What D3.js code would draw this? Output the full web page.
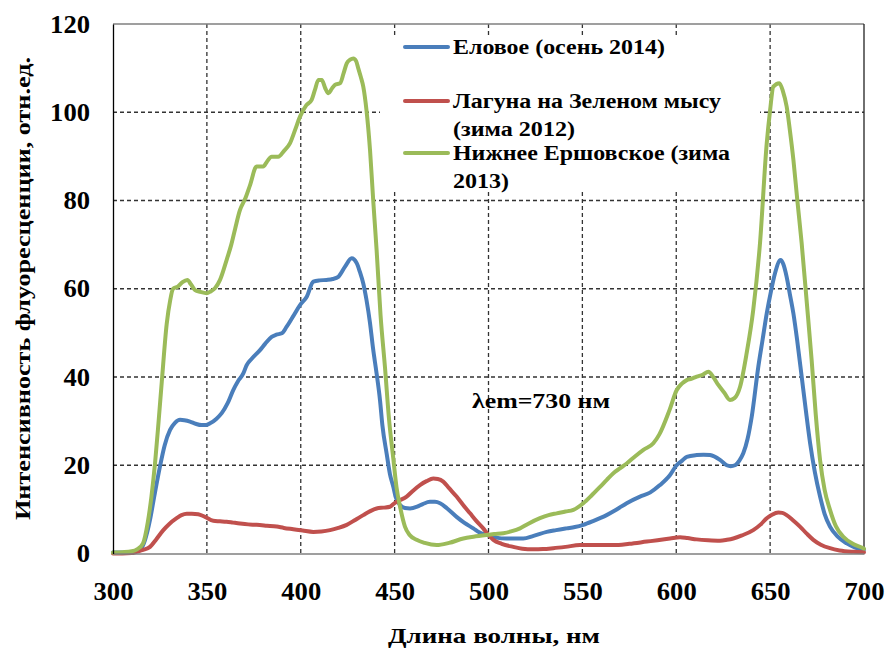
<!DOCTYPE html>
<html>
<head>
<meta charset="utf-8">
<script src="https://cdn.jsdelivr.net/npm/d3@7"></script>
<style>
  html, body { margin: 0; padding: 0; background: #fff; }
  svg { display: block; }
</style>
</head>
<body>
<svg id="chart" width="885" height="649"></svg>
<script>
// Excitation spectra of fluorescence, emission at 730 nm
const seriesNames = ["Еловое (осень 2014)", "Лагуна на Зеленом мысу (зима 2012)", "Нижнее Ершовское (зима 2013)"];
const legendLines = [["Еловое (осень 2014)"], ["Лагуна на Зеленом мысу", "(зима 2012)"], ["Нижнее Ершовское (зима", "2013)"]];
const seriesColors = ["#4a7ebb", "#c0504d", "#9bbb59"];

const xTicks = [300, 350, 400, 450, 500, 550, 600, 650, 700];
const yTicks = [0, 20, 40, 60, 80, 100, 120];

// [wavelength nm, intensity]
const elovoe = [
  [300,0.2],[305,0.2],[310,0.3],[314.4,0.8],[317,3],[319.7,7.6],[322,13],[325,19.7],[327.5,24.5],[330.4,28],[333,29.6],[335.7,30.3],
  [338,30.2],[341,29.9],[344,29.4],[347.2,29.1],[349.5,29.1],[351.7,29.5],[355,30.5],[357.9,31.8],[361,34],[364.1,37.1],[366.5,39],
  [369.4,40.8],[371.2,42.7],[374,44.2],[378.3,46.1],[381,47.5],[384.5,49.1],[387,49.6],[389.9,49.9],[392.5,51.4],[396,53.8],
  [399.6,56.3],[403.2,58.2],[406.7,61.6],[410,61.9],[413.8,62],[417,62.2],[420,62.7],[423.6,65],[427.1,66.9],[429.8,65.8],
  [431.5,63.8],[433.3,61.2],[435,57.5],[436.9,52.2],[438.5,46.5],[440.4,40.8],[442.2,34.8],[443.5,29],[445.8,22.5],[447.5,18],
  [449.3,15.1],[450.5,12.9],[452.9,11],[455.5,10.3],[458.2,10.2],[462,10.6],[465,11.2],[468.8,11.7],[471.5,11.7],[474.2,11.4],
  [478,10.2],[483,8.3],[487,7],[491.9,5.7],[495,4.8],[499,4.2],[504,3.6],[509.6,3.4],[514,3.4],[518.5,3.4],[524,4],[531,4.9],
  [536,5.3],[541.6,5.7],[546,6],[550.5,6.5],[556,7.4],[562.9,8.7],[568,9.9],[573.6,11.4],[580.7,12.9],[586,13.8],[591.3,15.5],
  [596.7,17.8],[600.2,20],[603,21],[605.6,21.9],[610.9,22.3],[614.5,22.4],[618,22.3],[623.3,21.2],[626.9,20],[629,19.8],
  [631.3,20],[633.5,21],[635.7,22.7],[638,26],[640.2,31],[643.7,42.3],[646,48.5],[648.2,54.4],[650.5,59.5],[652.6,63.5],
  [655.6,66.5],[657,65.6],[658.8,62.7],[660.5,58.8],[662.4,54.4],[664.5,48],[666.8,40.1],[669,32.5],[671.3,25],[673.8,18.5],
  [676.6,12.9],[679,9],[681.9,6.1],[686,3.8],[690.8,2.3],[695,1.4],[699.6,0.9],[700,0.9]
];

const laguna = [
  [300,0],[305,0],[310,0.1],[312.6,0.4],[316,0.8],[319.7,1.5],[323,3.2],[326.8,5.3],[330,6.7],[333.9,8],[336.5,8.7],[339.3,9],
  [342,9],[345.4,8.9],[349,8.3],[353.4,7.4],[357,7.3],[360.5,7.2],[364,7],[367.6,6.8],[372,6.6],[376.5,6.5],[382,6.3],
  [387.2,6.1],[391,5.8],[396,5.5],[401,5.2],[406.7,4.9],[411,5],[415.6,5.3],[420,5.8],[424.5,6.5],[429,7.6],[433.3,8.7],
  [437,9.6],[440.4,10.2],[444,10.4],[447.5,10.6],[449.3,11.2],[452,11.9],[456.4,12.9],[460,14.3],[463.5,15.5],[467,16.4],
  [470.6,17],[473,16.9],[475.9,16.3],[479,14.8],[483,12.9],[486.5,11],[490.2,9.1],[493.5,7.4],[497.2,5.7],[500,4.2],
  [502.6,3.1],[507,2.2],[513.2,1.5],[518,1.1],[523.9,0.95],[529,1],[534.5,1.2],[541,1.5],[548.7,1.9],[557,1.9],[566.5,1.9],
  [575,2.2],[584.3,2.7],[590,3],[596.7,3.4],[602,3.7],[606,3.5],[610.9,3.2],[617,3],[623.3,2.9],[627,3.1],[630.4,3.4],
  [635,4.1],[641,5.3],[645,6.6],[648.2,8],[651,8.8],[654.4,9.3],[656.5,9.2],[658.8,8.7],[662,7.6],[665.9,6.1],[669.5,4.5],
  [673,3.1],[677,2],[681.9,1.2],[687,0.7],[694.3,0.4],[700,0.3]
];

const nizhnee = [
  [300,0.2],[305,0.3],[310,0.5],[313,1],[316,2.3],[318.5,7],[320.5,13],[322.4,20.5],[324.3,30],[326,39],[328.6,52],[330.5,57.5],
  [332,60],[334.5,60.5],[337,61.5],[339.6,62],[341.5,61],[343.7,59.7],[346.5,59.3],[349.9,59],[352,59.4],[354.3,60.1],[357,62],
  [360.5,66.5],[363,70],[365,73.5],[367.6,77.8],[370.5,80.5],[373,83.5],[376.5,87.7],[378.3,87.7],[380,87.7],[382,88.8],
  [384.5,89.9],[388,89.9],[391,91.2],[394.3,93],[397,96],[399.6,99],[403,101.6],[405.8,102.8],[407.5,105],[409.4,107.3],
  [411.2,107.3],[413,105.5],[414.7,104.3],[416.5,105.3],[418.2,106.2],[421,106.6],[422.8,108.8],[424.5,111.1],[426.3,111.9],
  [428,112.2],[429.5,111.6],[430.6,110],[432,108],[433.3,105.8],[435,100.5],[436.9,91.4],[438.6,80],[440.4,68.8],[442.5,54],
  [444.9,42],[447,30.5],[449.3,21.5],[451,15],[452.9,10.6],[455.5,6.1],[458,4.2],[461.7,3.1],[466,2.4],[472.4,1.9],[479,2.4],
  [486.6,3.4],[492,3.8],[499,4.2],[503,4.4],[507.9,4.6],[512,5],[516.8,5.7],[521,6.7],[527.4,8],[532,8.7],[536.3,9.1],
  [541,9.5],[545.2,9.9],[550.5,11.4],[555,13.2],[559.4,15.1],[563,16.7],[566.5,18.2],[570,19.3],[573.6,20.4],[578,22],
  [582.5,23.5],[587.8,25],[591,27],[596.4,32.5],[600.2,37],[603,38.5],[605.6,39.3],[608,39.6],[610.9,40.1],[614,40.5],
  [617.1,41.2],[620,39.8],[622.4,38.2],[625.5,36.5],[628.6,34.8],[631,35.2],[634,37.8],[637.5,45.4],[641,55.2],[644.6,70.3],
  [648.2,93],[650,100.5],[651.7,105.8],[654.9,106.6],[656.8,104.8],[658.8,101.3],[660.5,96],[662.4,89.2],[664.5,80],
  [666.8,70.3],[669.5,57],[672.1,43.9],[674.3,31.5],[676.6,21.2],[679,14.5],[681.9,9.9],[685,6.2],[689,3.8],[694,2.2],
  [699.6,1.2],[700,1.1]
];

const allSeries = [elovoe, laguna, nizhnee];

const FONT = "'Liberation Serif', Tinos, 'Times New Roman', Times, 'Noto Serif', 'DejaVu Serif', FreeSerif, 'Nimbus Roman', serif";
// bold black text, optionally pinned to a given run length
const styleText = (sel, len) => {
  sel.style("font-family", FONT).style("font-weight", "bold").attr("fill", "#000");
  if (len) sel.attr("textLength", len).attr("lengthAdjust", "spacingAndGlyphs");
};

const svg = d3.select("#chart");
const W = 885, H = 649;
svg.append("rect").attr("width", W).attr("height", H).attr("fill", "#fff");

const plot = { left: 113, right: 864, top: 24, bottom: 553.5 };

const x = d3.scaleLinear().domain([300, 700]).range([plot.left, plot.right]);
const y = d3.scaleLinear().domain([0, 120]).range([plot.bottom, plot.top]);

// grid
const grid = svg.append("g");
grid.selectAll("line.h").data(yTicks.filter(t => t > 0 && t < 120)).join("line")
  .attr("x1", plot.left).attr("x2", plot.right)
  .attr("y1", d => y(d)).attr("y2", d => y(d))
  .attr("stroke", "#333").attr("stroke-width", 1.3).attr("stroke-dasharray", "4,3");
grid.selectAll("line.v").data(xTicks.filter(t => t > 300 && t < 700)).join("line")
  .attr("x1", d => x(d)).attr("x2", d => x(d))
  .attr("y1", plot.top).attr("y2", plot.bottom)
  .attr("stroke", "#333").attr("stroke-width", 1.3).attr("stroke-dasharray", "4,3");

// frame
svg.append("line").attr("x1", plot.left).attr("x2", plot.right).attr("y1", plot.top).attr("y2", plot.top)
  .attr("stroke", "#7f7f7f").attr("stroke-width", 1.3);
svg.append("line").attr("x1", plot.right).attr("x2", plot.right).attr("y1", plot.top).attr("y2", plot.bottom)
  .attr("stroke", "#222").attr("stroke-width", 1.3);

// series
const line = d3.line().x(d => x(d[0])).y(d => y(d[1])).curve(d3.curveMonotoneX);
svg.append("g").selectAll("path").data(allSeries).join("path")
  .attr("d", line)
  .attr("fill", "none")
  .attr("stroke", (d, i) => seriesColors[i])
  .attr("stroke-width", 4)
  .attr("stroke-linejoin", "round")
  .attr("stroke-linecap", "round");

// axes
const digitW = 13.3;
const xAxis = d3.axisBottom(x).tickValues(xTicks).tickSize(0).tickPadding(29);
const gx = svg.append("g").attr("transform", `translate(0,${plot.bottom})`).call(xAxis);
gx.select(".domain").attr("stroke", "#7f7f7f").attr("stroke-width", 1.5);
gx.selectAll("text").style("font-size", "25px").each(function(d) {
  d3.select(this).call(styleText, String(d).length * digitW);
});

const yAxis = d3.axisLeft(y).tickValues(yTicks).tickSize(0).tickPadding(23);
const gy = svg.append("g").attr("transform", `translate(${plot.left},0)`).call(yAxis);
gy.select(".domain").attr("stroke", "#000").attr("stroke-width", 1.3);
gy.selectAll("text").style("font-size", "25px").each(function(d) {
  d3.select(this).call(styleText, String(d).length * digitW);
});

// axis titles
svg.append("text").attr("x", 494).attr("y", 643).attr("text-anchor", "middle")
  .style("font-size", "22px").call(styleText, 212).text("Длина волны, нм");
svg.append("text").attr("transform", "translate(30,288.5) rotate(-90)").attr("text-anchor", "middle")
  .style("font-size", "22px").call(styleText, 463).text("Интенсивность флуоресценции, отн.ед.");

// annotation
svg.append("text").attr("x", 472).attr("y", 408).style("font-size", "22px").call(styleText, 138).text("λem=730 нм");

// legend
const legendWidths = [[212], [268, 122], [277, 56]];
const lg = svg.append("g");
lg.append("rect").attr("x", 380).attr("y", 35).attr("width", 380).attr("height", 157).attr("fill", "#fff");
const legendRows = [47, 101, 153];
legendLines.forEach((rows, i) => {
  lg.append("line").attr("x1", 405).attr("x2", 448).attr("y1", legendRows[i]).attr("y2", legendRows[i])
    .attr("stroke", seriesColors[i]).attr("stroke-width", 4).attr("stroke-linecap", "round");
  rows.forEach((t, j) => {
    lg.append("text").attr("x", 453).attr("y", legendRows[i] + 7 + j * 28)
      .style("font-size", "20px").call(styleText, legendWidths[i][j]).text(t);
  });
});
</script>
</body>
</html>
